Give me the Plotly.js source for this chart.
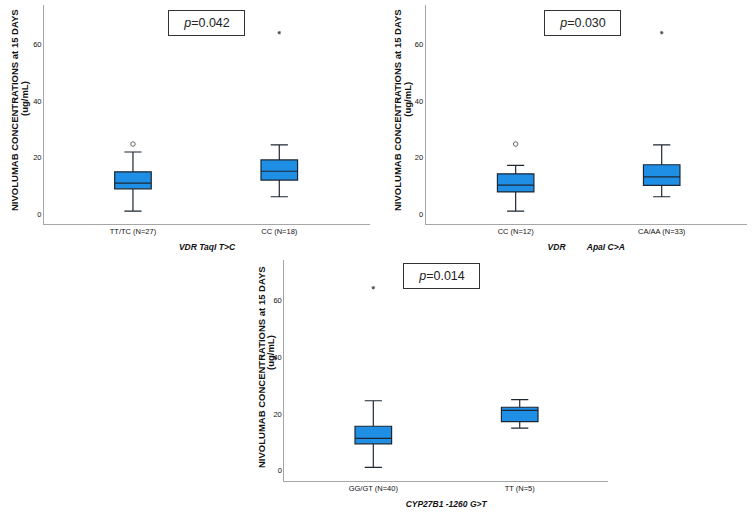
<!DOCTYPE html>
<html>
<head>
<meta charset="utf-8">
<script src="https://cdn.plot.ly/plotly-3.0.1.min.js"></script>
<style>html,body{margin:0;padding:0;background:#fff;}#chart{width:755px;height:519px;}</style>
</head>
<body>
<div id="chart"></div>
<script>
// Panel 1: VDR TaqI T>C
const cats1 = ["TT/TC (N=27)", "CC (N=18)"];
const q1_1 = [9.0, 12.1];
const med1 = [11.0, 15.2];
const q3_1 = [15.0, 19.2];
const lo1 = [1.1, 6.2];
const hi1 = [22.0, 24.5];
const outCircle1 = {x: ["TT/TC (N=27)"], y: [24.8]};
const outStar1 = {x: ["CC (N=18)"], y: [64.1]};
const pText1 = "<i>p</i>=0.042";

// Panel 2: VDR ApaI C>A
const cats2 = ["CC (N=12)", "CA/AA (N=33)"];
const q1_2 = [7.9, 10.2];
const med2 = [10.3, 13.2];
const q3_2 = [14.3, 17.5];
const lo2 = [1.1, 6.2];
const hi2 = [17.3, 24.5];
const outCircle2 = {x: ["CC (N=12)"], y: [24.8]};
const outStar2 = {x: ["CA/AA (N=33)"], y: [64.1]};
const pText2 = "<i>p</i>=0.030";

// Panel 3: CYP27B1 -1260 G>T
const cats3 = ["GG/GT (N=40)", "TT (N=5)"];
const q1_3 = [9.5, 17.3];
const med3 = [11.4, 21.3];
const q3_3 = [15.7, 22.4];
const lo3 = [1.2, 15.0];
const hi3 = [24.7, 25.1];
const outStar3 = {x: ["GG/GT (N=40)"], y: [64.6]};
const pText3 = "<i>p</i>=0.014";

const yTitleMain = "NIVOLUMAB CONCENTRATIONS at 15 DAYS";
const yTitleUnit = "(ug/mL)";
const yTicks = [0, 20, 40, 60];

const FILL = "#1e8fe4";
const LINE = "#1d2733";

function boxTrace(cats, q1, med, q3, lo, hi, xa, ya) {
  return {
    type: "box", x: cats, q1: q1, median: med, q3: q3,
    lowerfence: lo, upperfence: hi,
    xaxis: xa, yaxis: ya,
    fillcolor: FILL, line: {color: LINE, width: 1.2},
    width: 0.25, whiskerwidth: 0.47,
    boxpoints: false, hoverinfo: "skip", showlegend: false
  };
}
function circTrace(o, xa, ya) {
  return {type: "scatter", mode: "markers", x: o.x, y: o.y, xaxis: xa, yaxis: ya,
    marker: {symbol: "circle-open", size: 4.5, color: "#666", line: {width: 1}},
    showlegend: false, hoverinfo: "skip"};
}
function starTrace(o, xa, ya) {
  return {type: "scatter", mode: "markers", x: o.x, y: o.y, xaxis: xa, yaxis: ya,
    marker: {symbol: "asterisk-open", size: 3, color: "#444", line: {width: 0.8, color: "#444"}},
    showlegend: false, hoverinfo: "skip"};
}

const data = [
  boxTrace(cats1, q1_1, med1, q3_1, lo1, hi1, "x", "y"),
  circTrace(outCircle1, "x", "y"),
  starTrace(outStar1, "x", "y"),
  boxTrace(cats2, q1_2, med2, q3_2, lo2, hi2, "x2", "y2"),
  circTrace(outCircle2, "x2", "y2"),
  starTrace(outStar2, "x2", "y2"),
  boxTrace(cats3, q1_3, med3, q3_3, lo3, hi3, "x3", "y3"),
  starTrace(outStar3, "x3", "y3")
];

const W = 755, H = 519;
const px = v => v / W;
const py = v => 1 - v / H;

const FAM = "Liberation Sans, Arial, sans-serif";
const tickFont = {family: FAM, size: 7.5, color: "#111"};
const yTitleFont = {family: FAM, size: 9.5, color: "#111", weight: "bold"};
const xTitleFont = {family: FAM, size: 8.5, color: "#111", weight: "bold", style: "italic"};

function xAxis(domain, range, title, anchor) {
  return {domain: domain, range: range, type: "category", anchor: anchor,
    showline: true, linecolor: "#a6a6a6", linewidth: 1, showgrid: false, zeroline: false,
    ticks: "", tickfont: tickFont, fixedrange: true,
    title: {text: title, font: xTitleFont, standoff: 9}};
}
function yAxis(domain, range, anchor) {
  return {domain: domain, range: range, anchor: anchor,
    showline: true, linecolor: "#a6a6a6", linewidth: 1, showgrid: false, zeroline: false,
    ticks: "", tickvals: yTicks, tickfont: tickFont, fixedrange: true};
}

function pBox(text, cx, cy) {
  return {xref: "paper", yref: "paper", x: px(cx), y: py(cy), xanchor: "center", yanchor: "middle",
    text: text, showarrow: false, width: 73, height: 22,
    font: {family: FAM, size: 12.5, color: "#222"},
    bordercolor: "#333", borderwidth: 1, bgcolor: "#fff"};
}
function yLab(text, cx, cy) {
  return {xref: "paper", yref: "paper", x: px(cx), y: py(cy), xanchor: "center", yanchor: "middle",
    text: text, showarrow: false, textangle: -90, font: yTitleFont};
}

const layout = {
  width: W, height: H,
  margin: {l: 0, r: 0, t: 0, b: 0},
  paper_bgcolor: "#fff", plot_bgcolor: "#fff",
  showlegend: false,
  xaxis: xAxis([px(44), px(370)], [-0.608, 1.62], "VDR TaqI T>C", "y"),
  yaxis: yAxis([py(224), py(5)], [-3.42, 73.88], "x"),
  xaxis2: xAxis([px(425.7), px(746.7)], [-0.616, 1.582], "VDR\u00a0\u00a0\u00a0\u00a0\u00a0\u00a0\u00a0\u00a0\u00a0ApaI C>A", "y2"),
  yaxis2: yAxis([py(224), py(5)], [-3.42, 73.88], "x2"),
  xaxis3: xAxis([px(284.3), px(608)], [-0.608, 1.603], "CYP27B1 -1260 G>T", "y3"),
  yaxis3: yAxis([py(481), py(260)], [-3.64, 74.4], "x3"),
  annotations: [
    pBox(pText1, 206.5, 22.8),
    pBox(pText2, 582.5, 22.8),
    pBox(pText3, 441, 276.3),
    yLab(yTitleMain, 15, 110), yLab(yTitleUnit, 25, 99),
    yLab(yTitleMain, 398, 110), yLab(yTitleUnit, 407.7, 99),
    yLab(yTitleMain, 261, 367), yLab(yTitleUnit, 270, 353)
  ]
};

Plotly.newPlot("chart", data, layout, {displayModeBar: false, staticPlot: true});
</script>
</body>
</html>
